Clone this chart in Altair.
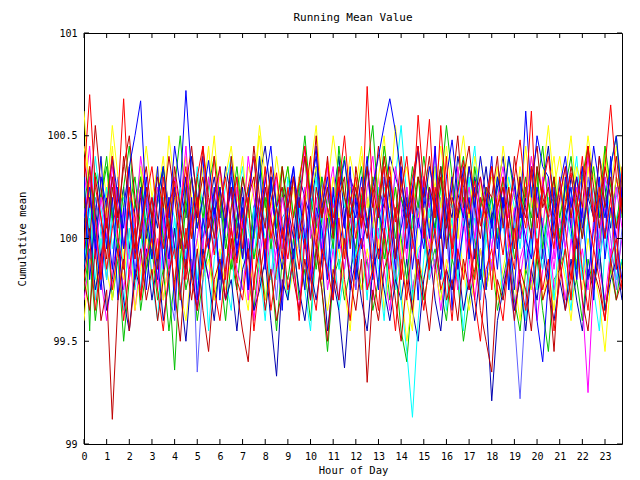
import altair as alt
import pandas as pd

BASE = 100.0          # values below are deviations from 100, in hundredths
STEP_HOURS = 0.25     # one reading every 15 minutes, 96 readings per day

# deviations (hundredths), 12 readings (3 hours) per row
s01 = [-25, -5, -40, -15, 10, -30, -10, -50, -20, 5, -35, -15,
       -5, -30, -15, -45, -20, 0, -25, -10, -40, -20, -5, -30,
       -15, -40, -10, -25, 5, -20, -35, -5, -30, -15, -45, -10,
       -20, 0, -30, -15, -40, -5, -25, -55, -20, -10, -30, -15,
       -5, -25, -10, -35, -20, 0, -30, -15, -45, -60, -25, -10,
       -30, -15, -5, -25, -40, -10, -20, -50, -30, -15, -5, -25,
       -10, -35, -20, -5, -30, -45, -15, -25, -10, -35, -55, -20,
       -15, -5, -30, -20, -40, -10, -25, -5, -35, -15, -30, -10]
s02 = [-30, -10, 5, -20, -40, -15, 0, -25, -5, -35, -10, 10,
       -20, 0, -30, -10, 5, -25, -15, 10, -35, -5, -20, 0,
       -10, -30, 5, -15, -25, 0, -40, -10, 10, -20, -5, -30,
       0, -15, -35, 5, -20, -10, 15, -25, -5, -30, 0, -15,
       -25, 0, -10, -30, 5, -15, -35, -5, -20, 10, -25, -10,
       5, -20, -10, -35, -15, 0, -25, 10, -10, -30, -5, -20,
       -15, 5, -25, -5, -35, -10, 0, -20, -40, -15, 5, -25,
       -10, -30, 0, -20, -5, -25, 10, -15, -30, -5, -20, 0]
s03 = [-40, -10, -25, 0, -15, -30, -5, -20, 5, -35, -15, 0,
       -20, -5, -30, -10, 5, -25, -40, -15, 0, -20, -10, -30,
       -5, -25, -10, 10, -20, -35, -5, -15, -30, 0, -20, -10,
       -30, -15, 0, -25, -10, 5, -20, -35, -15, -5, -25, -45,
       -10, -25, -5, -20, 0, -35, -15, -5, -25, -50, -30, -10,
       -20, 0, -15, -30, -10, -25, 5, -15, -35, -20, -5, -25,
       -10, -30, -15, 0, -20, -40, -10, -25, -5, -30, -15, -35,
       -5, -20, -40, -10, -25, 0, -15, -30, -55, -20, -5, -15]
s04 = [25, 5, 40, 15, -5, 30, 10, 20, -10, 15, 35, 5,
       15, 30, 0, 20, 10, -15, 25, 5, 35, 15, -5, 20,
       10, 25, 40, 5, 20, -10, 15, 30, 5, 25, 10, -5,
       30, 10, 20, -5, 15, 35, 0, 20, 10, 40, 15, 25,
       5, 20, 35, 15, 0, 25, 10, 30, 55, 20, 5, 15,
       25, 10, 35, 0, 20, 15, 30, 5, 25, 45, 10, 20,
       0, 25, 10, 30, 15, -5, 20, 35, 10, 25, 5, 15,
       30, 10, 20, 40, 5, 25, 15, 0, 30, 10, 20, 35]
s05 = [5, 30, 15, -10, 20, 40, 10, 25, -5, 15, 30, 0,
       20, 5, 35, 15, -5, 25, 10, 40, 20, 0, 15, 30,
       10, 35, 20, 5, 25, -10, 15, 30, 45, 20, 5, 25,
       15, 0, 30, 20, 10, 35, 25, 5, 20, 40, 10, 30,
       20, 10, 35, 5, 25, 15, 40, 30, 20, 5, 25, 10,
       30, 15, 5, 35, 20, 10, 40, 25, 5, 30, 15, 35,
       10, 25, 40, 15, 30, 0, 20, 35, 10, 25, 45, 15,
       25, 5, 30, 15, 35, 20, 10, 40, 25, 5, 30, 15]
s06 = [15, -10, 20, 5, -20, 10, 30, -5, 15, -15, 5, 25,
       -5, 20, 10, -25, -40, 5, -10, 15, -65, -20, 10, -5,
       20, -15, 5, 30, 10, -20, 15, -5, 25, 0, -30, 10,
       15, -10, 25, 5, -20, 10, 30, -15, 0, 20, -5, 15,
       -25, 5, 20, -10, 15, 35, 0, -20, 10, 25, -5, 15,
       30, 5, -15, 20, 0, -25, 10, 25, -10, 15, -30, 5,
       20, -5, 10, -20, -40, -78, -30, 5, 20, -10, 10, 15,
       25, -5, 15, -20, 5, 30, 10, -15, 20, 0, -25, 5]
s07 = [-15, 5, -25, -10, -35, -20, 0, -30, -45, -15, -25, -5,
       -30, -10, -40, -20, 5, -25, -50, -15, -35, -5, -20, -40,
       -10, -30, -20, -45, -15, -5, -35, -25, -10, -40, -67, -20,
       -30, -5, -25, -40, -15, -30, -10, -45, -20, -35, -63, -25,
       -10, -30, -45, -15, -5, -25, -40, -20, -30, -10, -35, -50,
       -20, -5, -30, -45, -15, -25, -10, -35, -20, -40, -15, -30,
       -79, -40, -25, -10, -35, -20, -45, -15, -30, -5, -25, -40,
       -20, -35, -10, -30, -45, -15, -25, -5, -35, -20, -10, -30]
s08 = [20, 45, 5, -15, 10, 30, -5, 15, -20, 5, 25, -10,
       10, -25, 5, 20, -10, 15, 30, -15, 0, 20, -5, 10,
       -20, 5, 25, -10, 15, -30, 0, 20, -15, 10, 30, -5,
       15, -10, 5, 25, -20, 10, -5, 20, 35, 0, -15, 10,
       -5, 20, -25, 10, 30, 5, -15, 15, -10, 25, 0, -20,
       10, -5, 20, -15, 5, 30, -10, 15, -25, 0, 20, 5,
       -15, 10, 25, -5, 15, -20, 0, 20, -10, 30, 5, -15,
       10, -5, 20, 0, -30, -75, -20, 5, 15, -10, 25, 5]
s09 = [-10, 15, -20, 5, 25, -5, 10, -15, 20, 0, -25, 10,
       5, -15, 20, 10, -10, 25, -5, 15, -20, 5, 30, 0,
       -15, 10, -5, 20, 35, 5, -10, 15, 0, -20, 10, 25,
       0, -20, 15, -5, 10, 30, -10, 5, 20, -15, 0, 15,
       -10, 20, 5, -15, 25, 10, -5, 15, -30, -55, -87, -40,
       -10, 15, 0, 25, -5, 10, -20, 5, 30, -10, 15, 0,
       20, -5, 10, -25, 5, 15, -10, 25, 0, -15, 20, 5,
       -5, 15, 0, 20, -20, 10, 25, -10, 5, -15, 10, 20]
s10 = [62, 20, -5, 30, 10, 45, 15, -10, 25, 5, 35, 15,
       -5, 20, 40, 10, 25, -10, 15, 30, 5, 20, 45, 10,
       30, 15, -5, 20, 40, 10, 25, 50, 15, 0, 20, 35,
       10, 25, 0, 15, 35, 55, 20, 5, 30, 10, -10, 25,
       15, 40, 20, 5, 30, 50, 15, 25, -5, -30, -45, 10,
       25, 5, 35, 15, 45, 20, 0, 30, 10, 40, 25, 5,
       15, 35, 10, 25, 0, 20, 45, 15, 30, 5, 25, 40,
       10, 30, 50, 20, 5, 35, 15, 25, 45, 10, 30, 20]
s11 = [30, -45, 32, 20, 35, 10, 25, -5, 15, 30, 5, -15,
       10, 25, 0, -20, -64, -10, 15, 30, 5, 20, -5, 10,
       25, 0, -15, 10, 30, 15, -10, 5, 20, -5, 15, 35,
       10, -10, 20, 40, 5, -15, 10, 25, 0, 45, 20, 5,
       -5, 20, 35, 55, 15, -10, 5, 25, 0, -20, 10, 30,
       5, -15, 20, 35, 10, -5, 25, 40, 15, 0, -20, 10,
       20, 0, 30, 15, -10, 5, 25, 10, 35, -5, 15, 20,
       0, 25, 10, -15, 30, 45, 15, -5, 20, 35, 50, 10]
s12 = [-10, 20, 0, -25, 10, -15, 25, -5, 15, -20, 5, 30,
       0, -20, 15, -10, 25, 5, -15, 20, -30, 10, -5, 15,
       -20, 10, 25, -5, 15, -25, 5, 20, -10, 30, 0, -15,
       10, -10, 20, 0, -30, 15, 5, -20, 25, -5, 10, -25,
       20, -5, 10, -20, 15, 0, 30, -10, 5, 20, -15, 10,
       -5, 25, 0, -20, 10, 30, -15, 5, 20, -10, 15, -25,
       10, -15, 20, 5, -25, 15, 0, -10, 25, 5, -20, 10,
       -15, 10, 25, -5, 15, -20, 5, 30, -10, 15, 0, -20]
s13 = [-20, -35, -5, -40, -25, -88, -30, -10, -45, -20, -5, -30,
       -15, -40, -20, 5, -25, -50, -10, -30, -5, -35, -55, -20,
       -10, -30, 0, -25, -45, -60, -20, -5, -35, -15, -40, -25,
       5, -20, -35, -10, -30, -5, -25, -50, -15, -30, 0, -20,
       -35, -10, -70, -25, -40, -15, -5, -30, -50, -20, -35, -10,
       -25, -45, -15, 5, -30, -20, -40, -10, -25, -5, -35, -50,
       -65, -20, -30, -10, -40, -15, -25, -45, -5, -30, -20, -55,
       -10, -35, -20, 0, -30, -45, -15, -25, -40, -10, -30, -20]
s14 = [40, 15, 55, 25, 5, 30, 10, 35, 50, 20, 0, 25,
       10, 30, 15, 40, 20, -5, 25, 45, 15, 30, 5, 20,
       35, 10, 25, 0, 30, 15, 45, 20, 5, 35, 15, 25,
       5, 30, 15, 40, 20, 50, 10, 25, 0, 35, 20, 10,
       25, 5, 35, 15, 45, 20, 30, 10, 40, 15, 0, 30,
       20, 40, 10, 30, 5, 25, 50, 15, 35, 20, 30, 10,
       35, 15, 25, 5, 40, 20, 10, 30, 45, 15, 25, 0,
       20, 35, 10, 30, 15, 45, 25, 5, 35, 20, 40, 15]
s15 = [10, 25, -5, 30, 15, 40, 20, 5, 35, 50, 67, 15,
       -10, 20, 35, 10, 45, 25, 72, 30, 5, 20, 38, 12,
       25, 5, 30, 15, -10, 20, 40, 10, 28, 45, 15, 0,
       20, 35, 10, -5, 25, 40, 15, 30, 5, 22, 38, 18,
       10, 30, 5, 25, 40, 55, 68, 52, 30, 10, 25, 45,
       15, 35, 20, 0, 30, 48, 22, 10, 35, 15, 40, 20,
       5, 30, 15, 40, 25, 10, 62, 20, 50, 35, 30, 10,
       25, 40, 15, 30, 5, 20, 45, 25, 10, 35, 50, 20]
s16 = [-5, 35, 10, -20, 15, 40, 0, -15, 25, 10, -30, 5,
       20, -10, 30, 5, -25, 15, 35, 0, 20, -15, 10, 40,
       5, -20, 15, 30, -5, 20, -25, 10, 35, 0, 15, -10,
       25, 5, -15, 20, 40, 0, -20, 15, 5, 30, -10, 20,
       0, 25, 10, -15, 20, 35, -5, 15, -20, 10, 30, 45,
       10, -15, 25, 5, 40, -10, 15, 30, 0, -20, 20, 10,
       -25, 15, 30, 0, -15, 20, 5, 35, -10, 25, 10, -5,
       30, 5, -20, 15, 40, 10, -5, 25, 0, 20, -15, 35]
s17 = [30, 70, 25, 10, -15, 5, 20, 68, 15, -10, 5, 20,
       35, 10, -5, 15, 28, 5, -20, 10, 30, 45, 12, -8,
       15, 30, 5, -12, 8, 25, 40, 10, -5, 18, 32, 6,
       -10, 12, 28, 45, 15, -5, 20, 38, 10, 25, 50, 18,
       30, 5, 74, 20, -10, 15, 35, 8, 22, 40, 12, 60,
       25, 58, 10, 55, 18, -5, 22, 38, 12, 28, 6, 20,
       35, 10, -8, 15, 30, 48, 20, 62, 5, 25, 40, 15,
       -5, 18, 32, 10, 25, 45, 8, 20, 35, 65, 30, 12]
s18 = [15, 35, 0, 20, 40, 10, -5, 25, 45, 15, 30, 5,
       -10, 20, 35, 5, 25, 50, 15, 0, 30, 10, 25, 40,
       20, -5, 15, 35, 10, 25, 0, 40, 15, 30, 5, 20,
       35, 10, 25, 50, 20, 5, 30, 15, -5, 25, 40, 10,
       20, 35, 5, 30, 15, 45, 25, 0, 20, 10, 35, 15,
       40, 20, 5, 25, 55, 30, 10, 20, 0, 35, 15, 25,
       5, 30, 15, 40, 20, 10, 30, 5, 25, 45, 15, 30,
       10, 25, 40, 15, 0, 20, 35, 10, 45, 25, 5, 30]
s19 = [-20, 0, -35, -10, 10, -25, -5, -40, -15, 5, -30, -10,
       0, -25, -45, -15, -5, -30, 5, -20, -35, -10, 0, -25,
       -40, -15, 5, -20, -30, -5, -45, -20, 0, -35, -15, 5,
       -25, -10, -40, 0, -20, -35, -5, -15, -30, 10, -20, -40,
       -10, 0, -25, -15, -35, 5, -20, -45, -10, -30, 0, -15,
       -35, -10, 5, -25, -15, -40, -5, -20, 0, -30, -50, -15,
       -5, -25, -40, -10, 5, -20, -35, -15, 0, -25, -10, -45,
       -20, -5, -30, 10, -15, -35, -5, -20, -40, -10, 0, -25]
s20 = [30, -20, 10, 40, -5, 20, -30, 15, 35, -10, 25, -25,
       5, 35, -15, 20, -35, 10, 30, -20, 15, 40, -5, 25,
       -30, 10, 35, -10, 20, -25, 5, 40, -15, 30, 0, -35,
       15, 35, -5, -25, 20, 45, -10, 10, -30, 25, 5, 35,
       -20, 15, 40, 0, -25, 30, 10, -15, 35, -5, 20, -30,
       25, 0, 45, -15, 20, -35, 10, 35, -10, 25, -20, 15,
       40, -5, 20, -25, 10, 30, -15, 5, -40, -60, -20, 25,
       -10, 30, 5, -20, 35, 15, -30, 20, 0, 40, -15, 25]
s21 = [-15, 10, -30, 0, -20, 15, -10, -35, 5, -25, -5, 20,
       -20, -40, 0, -15, 10, -30, -5, 15, -25, 0, -45, -10,
       5, -20, -35, 10, -5, -25, 15, -15, -40, 0, -20, 5,
       -30, -10, 10, -25, -45, -5, 15, -20, 0, -35, -15, 5,
       -20, 0, -30, 10, -15, -40, 5, -25, -10, 15, -30, -5,
       0, -20, 20, -10, -35, 5, -15, -45, -5, 10, -25, 0,
       -15, 5, -30, -10, 15, -20, -40, 0, -25, 10, -5, -30,
       5, -15, -35, 0, -20, 10, -25, -45, -5, 15, -20, -10]
s22 = [10, 30, -10, 20, 0, 35, 15, -5, 25, 5, 40, 20,
       0, 25, 10, -15, 30, 15, 45, 5, 20, -5, 30, 10,
       35, 15, -10, 25, 5, 40, 20, 0, 30, 10, -15, 20,
       5, 30, 15, 45, 0, 20, -10, 35, 15, 25, 5, 30,
       15, -5, 25, 40, 10, 20, 0, 35, 15, -10, 25, 5,
       30, 15, 45, 5, 20, -5, 35, 10, 25, 0, 30, 15,
       -5, 20, 35, 10, 25, 0, 15, 40, 20, 5, 30, -10,
       20, 35, 5, 25, 10, 40, 15, -5, 30, 20, 0, 25]
s23 = [45, 25, 10, 40, 20, 55, 30, 15, 35, 5, 25, 45,
       20, 35, 10, 50, 25, 15, 40, 20, 5, 35, 25, 50,
       15, 30, 45, 20, 10, 35, 25, 55, 30, 15, 40, 20,
       35, 10, 30, 45, 20, 35, 15, 25, 50, 30, 20, 40,
       25, 45, 15, 30, 10, 40, 20, 55, 25, 35, 15, 30,
       10, 35, 25, 45, 20, 5, 30, 50, 25, 15, 40, 20,
       30, 15, 45, 25, 10, 35, 20, 40, 15, 30, 55, 25,
       40, 20, 10, 35, 25, 50, 30, 15, 40, 25, 45, 30]
s24 = [20, 0, 30, 10, -10, 25, 5, 40, 15, -5, 20, 35,
       10, -15, 25, 0, 35, 15, -5, 30, 10, 45, 20, 0,
       25, 5, 40, 15, -10, 20, 30, 0, 25, 10, -5, 35,
       15, 30, 0, 20, -15, 25, 10, 40, 5, 20, 30, -5,
       35, 15, 0, 25, 10, 40, 20, -10, 30, 5, 20, 45,
       0, 25, 15, 35, -5, 20, 10, 30, 45, 15, 0, 25,
       20, 40, 5, 25, -5, 30, 15, 0, 35, 20, 10, 30,
       -5, 15, 35, 20, 0, 25, 10, 40, 15, 30, 5, 20]

SERIES = [s01, s02, s03, s04, s05, s06, s21, s23, s07, s08, s09, s10,
          s18, s11, s22, s12, s20, s13, s24, s14, s15, s19, s16, s17]
COLORS = ["#00c000", "#ff00ff", "#ffff00", "#00ffff", "#0000b0", "#6060ff",
          "#00ffff", "#ffff00", "#0000b0", "#ff00ff", "#00ffff", "#ffff00",
          "#00c000", "#00c000", "#ff00ff", "#0000ff", "#0000ff", "#c00000",
          "#c00000", "#c00000", "#0000ff", "#ff0000", "#ff0000", "#ff0000"]
NAMES = [f"s{i + 1:02d}" for i in range(len(SERIES))]

X_TICKS = list(range(24))
Y_TICKS = [99, 99.5, 100, 100.5, 101]

rows = []
for name, vals in zip(NAMES, SERIES):
    for i, v in enumerate(vals):
        rows.append({"hour": i * STEP_HOURS, "value": BASE + v / 100.0,
                     "series": name})
df = pd.DataFrame(rows)

W, H = 538, 411
FONT = "DejaVu Sans Mono"
TICK = 5

xscale = alt.Scale(domain=[0, 23.75], nice=False, zero=False)
yscale = alt.Scale(domain=[99, 101], nice=False, zero=False)

X_AXIS = alt.Axis(values=X_TICKS, title="Hour of Day", tickSize=0,
                  labelPadding=7, domain=False, grid=False,
                  titleY=26, titleBaseline="middle", labelFlush=False)
Y_AXIS = alt.Axis(values=Y_TICKS, title="Cumulative mean", tickSize=0,
                  labelPadding=7, domain=False, grid=False,
                  format="~g", titleX=-62, titleY=H / 2,
                  titleBaseline="middle", labelFlush=False)

lines = alt.Chart(df).mark_line(strokeWidth=1, clip=True).encode(
    x=alt.X("hour:Q", scale=xscale, axis=X_AXIS),
    y=alt.Y("value:Q", scale=yscale, axis=Y_AXIS),
    color=alt.Color("series:N", scale=alt.Scale(domain=NAMES, range=COLORS),
                    legend=None),
    order=alt.Order("hour:Q"),
)

xt = pd.DataFrame({"hour": X_TICKS})
yt = pd.DataFrame({"value": Y_TICKS})

xt_bottom = alt.Chart(xt).mark_rule(color="black", strokeWidth=1).encode(
    x=alt.X("hour:Q", scale=xscale, axis=X_AXIS),
    y=alt.value(H - TICK), y2=alt.value(H))
xt_top = alt.Chart(xt).mark_rule(color="black", strokeWidth=1).encode(
    x=alt.X("hour:Q", scale=xscale, axis=X_AXIS),
    y=alt.value(0), y2=alt.value(TICK))
yt_left = alt.Chart(yt).mark_rule(color="black", strokeWidth=1).encode(
    y=alt.Y("value:Q", scale=yscale, axis=Y_AXIS),
    x=alt.value(0), x2=alt.value(TICK))
yt_right = alt.Chart(yt).mark_rule(color="black", strokeWidth=1).encode(
    y=alt.Y("value:Q", scale=yscale, axis=Y_AXIS),
    x=alt.value(W - TICK), x2=alt.value(W))

chart = alt.layer(lines, xt_bottom, xt_top, yt_left, yt_right).properties(
    width=W, height=H,
    background="white",
    title=alt.TitleParams("Running Mean Value", font=FONT, fontSize=11,
                          fontWeight="normal", color="black", offset=5,
                          anchor="middle"),
    autosize=alt.AutoSizeParams(type="none"),
    padding={"left": 76, "top": 25, "right": 10, "bottom": 36},
).configure_view(
    stroke="black", strokeWidth=1
).configure_axis(
    labelFont=FONT, titleFont=FONT, labelFontSize=10, titleFontSize=10.5,
    labelColor="black", titleColor="black", titleFontWeight="normal",
)

chart.save("out.html", embed_options={"renderer": "svg", "actions": False})
